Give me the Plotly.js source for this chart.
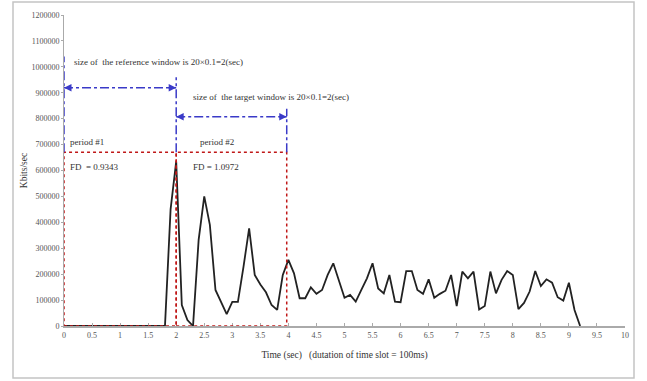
<!DOCTYPE html>
<html>
<head>
<meta charset="utf-8">
<script src="https://cdn.plot.ly/plotly-3.0.1.min.js"></script>
<style>
  html, body { margin: 0; padding: 0; background: #ffffff; }
  #chart { width: 647px; height: 381px; }
</style>
</head>
<body>
<div id="chart"></div>
<script>
// Time axis, one sample per 100 ms slot
const timeSec = [
  0.0, 0.1, 0.2, 0.3, 0.4, 0.5, 0.6, 0.7, 0.8, 0.9,
  1.0, 1.1, 1.2, 1.3, 1.4, 1.5, 1.6, 1.7, 1.8, 1.9,
  2.0, 2.1, 2.2, 2.3, 2.4, 2.5, 2.6, 2.7, 2.8, 2.9,
  3.0, 3.1, 3.2, 3.3, 3.4, 3.5, 3.6, 3.7, 3.8, 3.9,
  4.0, 4.1, 4.2, 4.3, 4.4, 4.5, 4.6, 4.7, 4.8, 4.9,
  5.0, 5.1, 5.2, 5.3, 5.4, 5.5, 5.6, 5.7, 5.8, 5.9,
  6.0, 6.1, 6.2, 6.3, 6.4, 6.5, 6.6, 6.7, 6.8, 6.9,
  7.0, 7.1, 7.2, 7.3, 7.4, 7.5, 7.6, 7.7, 7.8, 7.9,
  8.0, 8.1, 8.2, 8.3, 8.4, 8.5, 8.6, 8.7, 8.8, 8.9,
  9.0, 9.1, 9.2
];

// Traffic rate per slot (Kbits/sec)
const rateKbps = [
  0, 0, 0, 0, 0, 0, 0, 0, 0, 0,
  0, 0, 0, 0, 0, 0, 0, 0, 0, 450000,
  635000, 81000, 23000, 0, 332000, 500000, 390000, 139000, 94000, 46000,
  93000, 93000, 229000, 377000, 197000, 160000, 130000, 81000, 62000, 197000,
  255000, 203000, 107000, 107000, 149000, 124000, 139000, 197000, 242000, 171000,
  109000, 120000, 94000, 139000, 184000, 242000, 145000, 126000, 197000, 94000,
  92000, 212000, 212000, 139000, 124000, 180000, 109000, 124000, 136000, 197000,
  77000, 210000, 184000, 210000, 64000, 77000, 210000, 126000, 178000, 212000,
  197000, 65000, 89000, 133000, 212000, 154000, 180000, 167000, 111000, 98000,
  167000, 62000, 0
];

// Tick labels
const xTickVals = [0, 0.5, 1, 1.5, 2, 2.5, 3, 3.5, 4, 4.5, 5, 5.5, 6, 6.5, 7, 7.5, 8, 8.5, 9, 9.5, 10];
const xTickText = ['0', '0.5', '1', '1.5', '2', '2.5', '3', '3.5', '4', '4.5', '5', '5.5', '6', '6.5', '7', '7.5', '8', '8.5', '9', '9.5', '10'];
const yTickVals = [0, 100000, 200000, 300000, 400000, 500000, 600000, 700000, 800000, 900000, 1000000, 1100000, 1200000];
const yTickText = ['0', '100000', '200000', '300000', '400000', '500000', '600000', '700000', '800000', '900000', '1000000', '1100000', '1200000'];

// Measurement windows (seconds) and their FD values
const refWindow = [0, 2];
const targetWindow = [2, 3.97];
const fdValues = ['0.9343', '1.0972'];

const SERIF = 'Liberation Serif, Times New Roman, serif';
const BLUE = '#3a3ac8';
const RED = '#c01818';
const TEXT = '#333333';

const trace = {
  x: timeSec,
  y: rateKbps,
  type: 'scatter',
  mode: 'lines',
  line: { color: '#222222', width: 1.8 },
  hoverinfo: 'x+y',
  showlegend: false
};

// Plot-area geometry used for the outer frame (paper coordinates)
const M = { l: 64, r: 22, t: 15, b: 55 };
const W = 647, H = 381;
const pw = W - M.l - M.r, ph = H - M.t - M.b;
const px = v => (v - M.l) / pw;
const py = v => (H - M.b - v) / ph;

const shapes = [
  // outer frame
  { type: 'rect', xref: 'paper', yref: 'paper',
    x0: px(13), x1: px(634), y0: py(378), y1: py(2),
    line: { color: '#c4c4c4', width: 1.5 }, layer: 'below' },

  // red dotted boxes for period #1 and period #2
  { type: 'rect', xref: 'x', yref: 'y',
    x0: refWindow[0], x1: refWindow[1], y0: 0, y1: 670000,
    line: { color: RED, width: 1.5, dash: 'dot' } },
  { type: 'rect', xref: 'x', yref: 'y',
    x0: targetWindow[0], x1: targetWindow[1], y0: 0, y1: 670000,
    line: { color: RED, width: 1.5, dash: 'dot' } },

  // blue window boundaries
  { type: 'line', xref: 'x', yref: 'y', x0: refWindow[0], x1: refWindow[0], y0: 670000, y1: 1040000,
    line: { color: BLUE, width: 1.5, dash: 'dashdot' } },
  { type: 'line', xref: 'x', yref: 'y', x0: refWindow[1], x1: refWindow[1], y0: 670000, y1: 960000,
    line: { color: BLUE, width: 1.5, dash: 'dashdot' } },
  { type: 'line', xref: 'x', yref: 'y', x0: targetWindow[1], x1: targetWindow[1], y0: 670000, y1: 838000,
    line: { color: BLUE, width: 1.5, dash: 'dashdot' } },

  // blue window spans
  { type: 'line', xref: 'x', yref: 'y', x0: refWindow[0], x1: refWindow[1], y0: 919000, y1: 919000,
    line: { color: BLUE, width: 1.5, dash: 'dashdot' } },
  { type: 'line', xref: 'x', yref: 'y', x0: targetWindow[0], x1: targetWindow[1], y0: 807000, y1: 807000,
    line: { color: BLUE, width: 1.5, dash: 'dashdot' } }
];

function arrowHead(x, y, dx) {
  return { x: x, y: y, xref: 'x', yref: 'y', text: '', showarrow: true,
           ax: dx, ay: 0, arrowhead: 2, arrowsize: 1, arrowwidth: 1.5,
           arrowcolor: BLUE, standoff: 0 };
}

function label(x, y, text) {
  return { x: x, y: y, xref: 'x', yref: 'y', text: text, showarrow: false,
           xanchor: 'left', yanchor: 'middle',
           font: { family: SERIF, size: 9, color: TEXT } };
}

const annotations = [
  arrowHead(refWindow[0], 919000, 9),
  arrowHead(refWindow[1], 919000, -9),
  arrowHead(targetWindow[0], 807000, 9),
  arrowHead(targetWindow[1], 807000, -9),
  label(0.14, 1019000, 'size of  the reference window is 20×0.1=2(sec)'),
  label(2.26, 884000, 'size of  the target window is 20×0.1=2(sec)'),
  label(0.07, 710000, 'period #1'),
  label(2.39, 710000, 'period #2'),
  label(0.07, 614000, 'FD  = ' + fdValues[0]),
  label(2.26, 614000, 'FD = ' + fdValues[1])
];

const layout = {
  width: W,
  height: H,
  margin: M,
  paper_bgcolor: '#ffffff',
  plot_bgcolor: '#ffffff',
  showlegend: false,
  xaxis: {
    range: [0, 10],
    tickvals: xTickVals,
    ticktext: xTickText,
    ticks: 'inside',
    ticklen: 3,
    tickcolor: '#aaaaaa',
    showgrid: false,
    zeroline: false,
    showline: true,
    linecolor: '#aaaaaa',
    linewidth: 2,
    tickfont: { family: SERIF, size: 8, color: '#555555' },
    title: { text: 'Time (sec)   (dutation of time slot = 100ms)',
             font: { family: SERIF, size: 9.5, color: TEXT }, standoff: 13 }
  },
  yaxis: {
    range: [0, 1200000],
    tickvals: yTickVals,
    ticktext: yTickText,
    ticks: 'outside',
    ticklen: 2,
    tickcolor: '#aaaaaa',
    showgrid: false,
    zeroline: false,
    showline: true,
    linecolor: '#aaaaaa',
    linewidth: 1,
    tickfont: { family: SERIF, size: 8, color: '#555555' },
    title: { text: 'Kbits/sec', font: { family: SERIF, size: 9.5, color: TEXT }, standoff: 2 }
  },
  shapes: shapes,
  annotations: annotations
};

Plotly.newPlot('chart', [trace], layout, { displayModeBar: false, staticPlot: true });
</script>
</body>
</html>
